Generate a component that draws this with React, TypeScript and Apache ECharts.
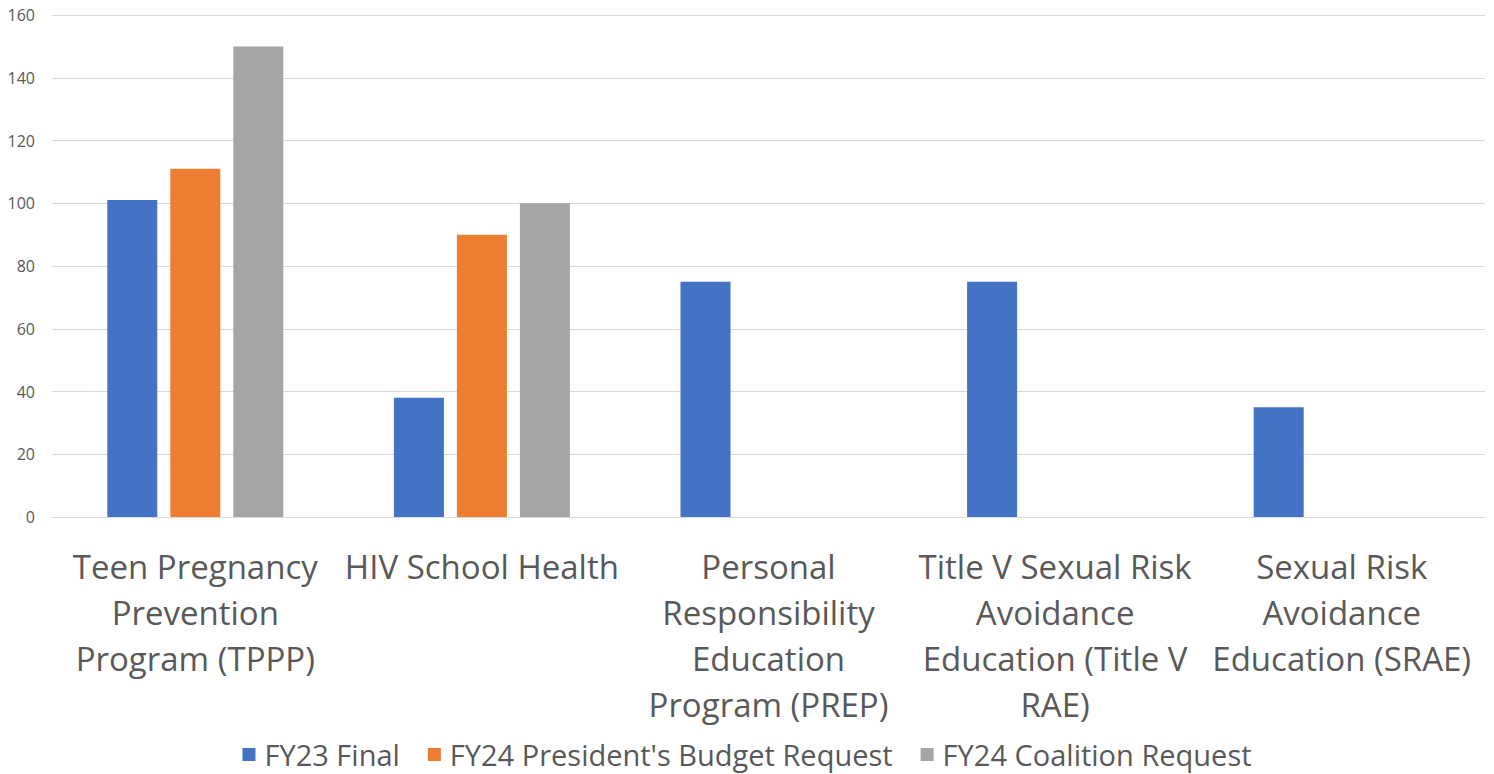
import React, { useEffect, useRef } from "react";
import * as echarts from "echarts";

const categories = [
  "Teen Pregnancy\nPrevention\nProgram (TPPP)",
  "HIV School Health",
  "Personal\nResponsibility\nEducation\nProgram (PREP)",
  "Title V Sexual Risk\nAvoidance\nEducation (Title V\nRAE)",
  "Sexual Risk\nAvoidance\nEducation (SRAE)",
];
const fy23Final = [101, 38, 75, 75, 35];
const fy24President = [111, 90, null, null, null];
const fy24Coalition = [150, 100, null, null, null];
const seriesNames = ["FY23 Final", "FY24 President's Budget Request", "FY24 Coalition Request"];
const colors = ["#4472C4", "#ED7D31", "#A5A5A5"];

export default function App() {
  const ref = useRef<HTMLDivElement>(null);
  useEffect(() => {
    const chart = echarts.init(ref.current!, null, { renderer: "svg" });
    const font = "'Open Sans', 'Noto Sans', sans-serif";
    chart.setOption({
      animation: false,
      color: colors,
      textStyle: { fontFamily: font },
      grid: { left: 52, right: 9, top: 15, bottom: 257, containLabel: false },
      legend: {
        bottom: 0,
        left: "center",
        itemWidth: 13,
        itemHeight: 13,
        itemGap: 28,
        icon: "rect",
        textStyle: { fontSize: 29, color: "#595959", fontFamily: font, padding: [0, 0, 0, 4] },
        data: seriesNames,
      },
      xAxis: {
        type: "category",
        data: categories,
        axisLine: { show: true, lineStyle: { color: "#D9D9D9" } },
        axisTick: { show: false },
        axisLabel: {
          interval: 0,
          fontSize: 33,
          lineHeight: 46,
          margin: 26,
          color: "#595959",
          fontFamily: font,
        },
      },
      yAxis: {
        type: "value",
        min: 0,
        max: 160,
        interval: 20,
        axisLine: { show: false },
        axisTick: { show: false },
        splitLine: { lineStyle: { color: "#D9D9D9" } },
        axisLabel: { fontSize: 16, color: "#595959", margin: 17, fontFamily: font },
      },
      series: [
        { name: seriesNames[0], type: "bar", data: fy23Final, barWidth: 50, barGap: "26%" },
        { name: seriesNames[1], type: "bar", data: fy24President, barWidth: 50, barGap: "26%" },
        { name: seriesNames[2], type: "bar", data: fy24Coalition, barWidth: 50, barGap: "26%" },
      ],
    });
    return () => chart.dispose();
  }, []);
  return (
    <div
      ref={ref}
      style={{ position: "fixed", left: 0, top: 0, width: 1494, height: 774, background: "#fff" }}
    />
  );
}
